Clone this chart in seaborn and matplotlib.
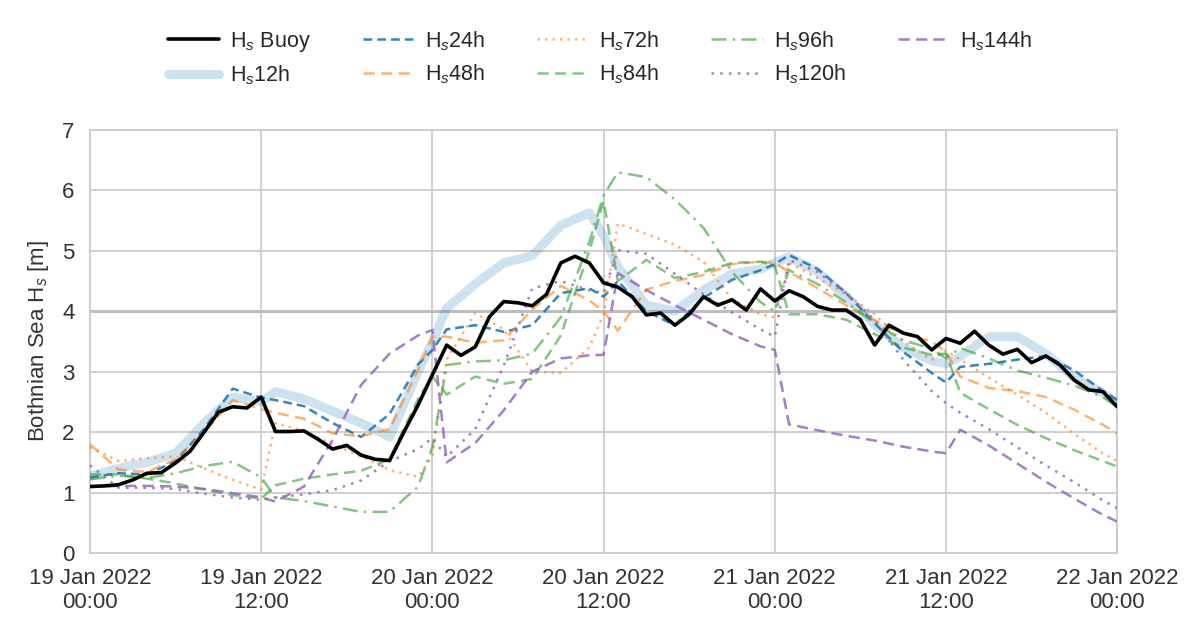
import numpy as np
import pandas as pd
import matplotlib
matplotlib.use("Agg")
import matplotlib.pyplot as plt
import matplotlib.dates as mdates
import seaborn as sns

# ---------------- data ----------------
START = "2022-01-19 00:00"

BUOY_HOURS = list(range(0, 73))
HS_BUOY = [1.10, 1.11, 1.13, 1.21, 1.32, 1.33, 1.49, 1.68, 2.00, 2.33,
           2.42, 2.40, 2.58, 2.01, 2.01, 2.02, 1.88, 1.72, 1.78, 1.62,
           1.55, 1.53, 2.00, 2.45, 2.95, 3.44, 3.27, 3.41, 3.91, 4.16,
           4.14, 4.09, 4.28, 4.80, 4.91, 4.80, 4.47, 4.40, 4.24, 3.94,
           3.97, 3.77, 3.95, 4.24, 4.10, 4.19, 4.02, 4.37, 4.17, 4.34,
           4.24, 4.08, 4.02, 4.02, 3.86, 3.44, 3.77, 3.64, 3.58, 3.36,
           3.55, 3.47, 3.67, 3.44, 3.29, 3.37, 3.15, 3.26, 3.11, 2.86,
           2.70, 2.67, 2.42]

FC_HOURS = [0, 2, 4, 6, 8, 10, 12, 13, 15, 17, 19, 21, 23, 24, 25, 27, 29, 31,
            33, 35, 36, 37, 39, 41, 43, 45, 47, 48, 49, 51, 53, 55, 57, 59, 60,
            61, 63, 65, 67, 69, 71, 72]

HS_12H = [1.27, 1.40, 1.50, 1.65, 2.15, 2.58, 2.50, 2.67, 2.55, 2.35, 2.15, 1.92,
          3.00, 3.50, 4.05, 4.45, 4.80, 4.92, 5.42, 5.63, 5.25, 4.74, 4.10, 4.00,
          4.35, 4.62, 4.70, 4.80, 4.90, 4.65, 4.25, 3.78, 3.40, 3.18, 3.13, 3.25,
          3.58, 3.58, 3.30, 2.90, 2.65, 2.48]
HS_24H = [1.25, 1.32, 1.30, 1.52, 2.05, 2.72, 2.57, 2.53, 2.43, 2.15, 1.92, 2.30,
          3.12, 3.36, 3.70, 3.77, 3.66, 3.77, 4.30, 4.38, 4.24, 4.50, 4.00, 3.77,
          4.22, 4.52, 4.68, 4.78, 4.93, 4.70, 4.30, 3.80, 3.33, 2.98, 2.82, 3.08,
          3.13, 3.20, 3.26, 3.02, 2.68, 2.53]
HS_48H = [1.80, 1.38, 1.34, 1.55, 2.00, 2.53, 2.38, 2.32, 2.22, 1.98, 1.93, 2.05,
          3.03, 3.58, 3.58, 3.48, 3.52, 4.03, 4.42, 4.18, 4.00, 3.68, 4.36, 4.50,
          4.60, 4.78, 4.82, 4.80, 4.65, 4.38, 4.10, 3.85, 3.63, 3.50, 3.33, 2.92,
          2.73, 2.68, 2.58, 2.37, 2.12, 1.98]
HS_72H = [1.75, 1.52, 1.57, 1.60, 1.40, 1.21, 1.05, 2.15, 2.02, 1.80, 1.60, 1.37,
          1.26, 1.60, 3.20, 3.97, 3.70, 3.00, 2.98, 3.40, 3.95, 5.45, 5.28, 5.10,
          4.82, 4.20, 3.95, 3.90, 4.80, 4.55, 4.28, 3.95, 3.50, 3.20, 3.35, 3.20,
          2.90, 2.62, 2.32, 1.97, 1.65, 1.52]
HS_84H = [1.30, 1.30, 1.23, 1.15, 1.05, 0.96, 0.90, 1.12, 1.23, 1.30, 1.36, 1.55,
          2.55, 2.92, 2.62, 2.92, 2.80, 2.88, 3.60, 5.00, 5.82, 4.50, 4.85, 4.55,
          4.65, 4.80, 4.82, 4.75, 3.95, 3.95, 3.86, 3.62, 3.40, 3.28, 3.30, 2.65,
          2.38, 2.12, 1.90, 1.70, 1.52, 1.43]
HS_96H = [1.22, 1.28, 1.24, 1.32, 1.44, 1.51, 1.25, 0.92, 0.86, 0.77, 0.68, 0.68,
          1.10, 1.75, 3.11, 3.17, 3.19, 3.30, 3.90, 5.15, 5.92, 6.30, 6.22, 5.85,
          5.38, 4.65, 4.15, 4.00, 4.68, 4.45, 4.15, 3.80, 3.52, 3.38, 3.22, 3.39,
          3.22, 3.02, 2.90, 2.77, 2.58, 2.42]
HS_120H = [1.45, 1.08, 1.08, 1.06, 0.98, 0.92, 0.88, 0.92, 0.97, 1.04, 1.20, 1.52,
           1.72, 1.90, 1.59, 2.05, 3.10, 4.38, 4.50, 4.35, 4.30, 5.01, 4.95, 4.62,
           4.28, 3.98, 3.70, 3.58, 4.85, 4.65, 4.30, 3.85, 3.20, 2.68, 2.48, 2.32,
           2.05, 1.75, 1.45, 1.17, 0.87, 0.74]
HS_144H = [1.10, 1.11, 1.11, 1.10, 1.06, 0.99, 0.92, 0.85, 1.10, 1.87, 2.78, 3.30,
           3.60, 3.69, 1.50, 1.82, 2.36, 3.00, 3.22, 3.27, 3.28, 4.63, 4.35, 4.10,
           3.86, 3.62, 3.42, 3.36, 2.13, 2.03, 1.94, 1.86, 1.76, 1.68, 1.65, 2.04,
           1.78, 1.48, 1.18, 0.90, 0.63, 0.52]

Y_TICKS = [0, 1, 2, 3, 4, 5, 6, 7]
Y_LABEL = "Bothnian Sea H$_s$ [m]"

# ---------------- style ----------------
sns.set_theme(style="whitegrid")
plt.rcParams["font.family"] = ["Liberation Sans", "DejaVu Sans"]
plt.rcParams["mathtext.fontset"] = "custom"
plt.rcParams["mathtext.rm"] = "Liberation Sans"
plt.rcParams["mathtext.it"] = "Liberation Sans:italic"

t0 = pd.Timestamp(START)
buoy_t = t0 + pd.to_timedelta(BUOY_HOURS, unit="h")
fc_t = t0 + pd.to_timedelta(FC_HOURS, unit="h")

fig = plt.figure(figsize=(12, 6.39), dpi=100)
ax = fig.add_axes([0.075, 0.1346, 0.856, 0.662])

ax.axhline(4, color="#bdbdbd", lw=2.2, zorder=1)

sns.lineplot(x=buoy_t, y=HS_BUOY, ax=ax, color="black", lw=2.6,
             label="H$_s$ Buoy", zorder=10)
sns.lineplot(x=fc_t, y=HS_12H, ax=ax, color="#1f77b4", alpha=0.22, lw=6.5,
             label="H$_s$12h", zorder=3)

fc_specs = [
    (HS_24H, "H$_s$24h", "#1f77b4", (0, (3.5, 2)), 0.9),
    (HS_48H, "H$_s$48h", "#ff7f0e", (0, (4.5, 2.5)), 0.6),
    (HS_72H, "H$_s$72h", "#ff7f0e", (0, (1, 2)), 0.6),
    (HS_84H, "H$_s$84h", "#2ca02c", (0, (4.5, 2.5)), 0.6),
    (HS_96H, "H$_s$96h", "#2ca02c", (0, (6, 2.5, 1, 2.5)), 0.6),
    (HS_120H, "H$_s$120h", "#9467bd", (0, (1, 2.5)), 0.85),
    (HS_144H, "H$_s$144h", "#9467bd", (0, (4.5, 2.5)), 0.85),
]
for vals, lab, col, ls, a in fc_specs:
    sns.lineplot(x=fc_t, y=vals, ax=ax, color=col, lw=1.8, alpha=a,
                 linestyle=ls, label=lab, zorder=4)

ax.set_xlim(t0, t0 + pd.Timedelta(hours=72))
ax.set_ylim(0, 7)
ax.set_yticks(Y_TICKS)
ax.xaxis.set_major_locator(mdates.HourLocator(byhour=[0, 12]))
ax.xaxis.set_major_formatter(mdates.DateFormatter("%d %b %Y\n%H:%M"))
ax.tick_params(axis="both", labelsize=16, colors="#333333", pad=5)
for lbl in ax.get_xticklabels():
    lbl.set_horizontalalignment("center")
ax.set_ylabel(Y_LABEL, fontsize=16, color="#333333", labelpad=8)
ax.set_xlabel("")
ax.grid(True, color="#cccccc", lw=1.3)
for s in ax.spines.values():
    s.set_color("#cccccc")
    s.set_linewidth(1.3)

handles, labels = ax.get_legend_handles_labels()
ax.get_legend().remove()
fig.legend(handles, labels, loc="upper center", bbox_to_anchor=(0.5, 0.985),
           ncol=5, frameon=False, fontsize=15.5, handlelength=2.4,
           columnspacing=2.4, handletextpad=0.5, labelspacing=0.45)

fig.savefig("out.png", dpi=100)
